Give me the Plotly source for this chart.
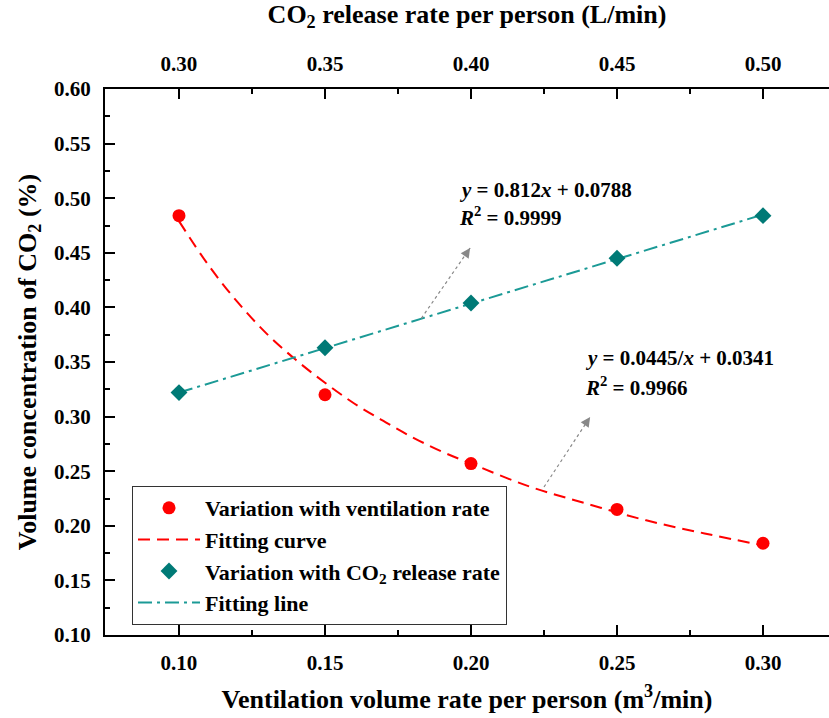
import plotly.graph_objects as go

# Data
vent_x = [0.10, 0.15, 0.20, 0.25, 0.30]
vent_y = [0.484, 0.320, 0.257, 0.215, 0.184]

curve_x = [0.10, 0.11, 0.12, 0.13, 0.14, 0.15, 0.16, 0.17, 0.18, 0.19, 0.20,
           0.22, 0.24, 0.26, 0.28, 0.30]
curve_y = [0.479, 0.439, 0.405, 0.376, 0.352, 0.331, 0.312, 0.296, 0.281, 0.268, 0.257,
           0.236, 0.220, 0.205, 0.193, 0.182]

co2_x = [0.30, 0.35, 0.40, 0.45, 0.50]
co2_y = [0.322, 0.363, 0.404, 0.445, 0.484]

line_x = [0.30, 0.50]
line_y = [0.322, 0.485]

bottom_ticks = [0.10, 0.15, 0.20, 0.25, 0.30]
top_ticks = [0.30, 0.35, 0.40, 0.45, 0.50]
y_ticks = [0.10, 0.15, 0.20, 0.25, 0.30, 0.35, 0.40, 0.45, 0.50, 0.55, 0.60]

FONT = "Liberation Serif"
RED = "#ff0000"
TEAL_M = "#007a76"
TEAL_L = "#1b9a96"

fig = go.Figure()

# lines first (drawn beneath), legend order set with legendrank
fig.add_trace(go.Scatter(
    x=curve_x, y=curve_y, mode="lines", name="Fitting curve", line_shape="spline",
    line=dict(color=RED, width=2, dash="12px,7px"), legendgroup="b", legendrank=2,
    xaxis="x", yaxis="y"))
fig.add_trace(go.Scatter(
    x=line_x, y=line_y, mode="lines", name="Fitting line",
    line=dict(color=TEAL_L, width=2, dash="14px,5px,3px,5px"), legendgroup="d", legendrank=4,
    xaxis="x2", yaxis="y"))
fig.add_trace(go.Scatter(
    x=vent_x, y=vent_y, mode="markers", name="Variation with ventilation rate",
    marker=dict(symbol="circle", size=13, color=RED), legendgroup="a", legendrank=1,
    xaxis="x", yaxis="y"))
fig.add_trace(go.Scatter(
    x=co2_x, y=co2_y, mode="markers", name="Variation with CO<sub>2</sub> release rate",
    marker=dict(symbol="diamond", size=13, color=TEAL_M), legendgroup="c", legendrank=3,
    xaxis="x2", yaxis="y"))

tickfont = dict(family=FONT, size=21, color="black", weight="bold")
titlefont = dict(family=FONT, size=26, color="black", weight="bold")

axis_common = dict(
    showline=True, linecolor="black", linewidth=2, ticks="inside", ticklen=10,
    tickwidth=2, tickcolor="black", showgrid=False, zeroline=False, tickfont=tickfont,
    ticklabelstandoff=8,
)

fig.update_layout(
    width=829, height=718,
    margin=dict(l=105, r=0, t=89, b=83),
    paper_bgcolor="white", plot_bgcolor="white",
    xaxis=dict(
        range=[0.07466, 0.3226], tickvals=bottom_ticks, ticktext=[f"{v:.2f}" for v in bottom_ticks],
        minor=dict(tickvals=[0.125, 0.175, 0.225, 0.275], ticks="inside", ticklen=5,
                   tickwidth=2, tickcolor="black"),
        title=dict(text="Ventilation volume rate per person (m<sup>3</sup>/min)", font=titlefont,
                   standoff=16),
        **axis_common),
    xaxis2=dict(
        range=[0.27466, 0.5226], tickvals=top_ticks, ticktext=[f"{v:.2f}" for v in top_ticks],
        overlaying="x", side="top", anchor="y",
        minor=dict(tickvals=[0.325, 0.375, 0.425, 0.475], ticks="inside", ticklen=5,
                   tickwidth=2, tickcolor="black"),
        title=dict(text="CO<sub>2</sub> release rate per person (L/min)", font=titlefont,
                   standoff=22),
        **axis_common),
    yaxis=dict(
        range=[0.10, 0.60], tickvals=y_ticks, ticktext=[f"{v:.2f}" for v in y_ticks],
        minor=dict(tickvals=[0.125 + 0.05 * i for i in range(10)], ticks="inside", ticklen=5,
                   tickwidth=2, tickcolor="black"),
        title=dict(text="Volume concentration of CO<sub>2</sub> (%)", font=titlefont, standoff=10),
        **axis_common),
    legend=dict(
        x=0.0373, y=0.2729, xanchor="left", yanchor="top",
        bgcolor="white", bordercolor="#333333", borderwidth=1,
        font=dict(family=FONT, size=22, color="black", weight="bold"),
        tracegroupgap=0, itemwidth=62, traceorder="normal",
    ),
    showlegend=True,
)

# Equation labels
annfont = dict(family=FONT, size=21, color="black", weight="bold")
labels = [
    (0.1952, 0.5075, "<i>y</i> = 0.812<i>x</i> + 0.0788"),
    (0.1952, 0.4828, "<i>R</i><sup>2</sup> = 0.9999"),
    (0.2384, 0.3537, "<i>y</i> = 0.0445/<i>x</i> + 0.0341"),
    (0.2384, 0.3280, "<i>R</i><sup>2</sup> = 0.9966"),
]
for x, y, t in labels:
    fig.add_annotation(x=x, y=y, xref="x", yref="y", text=t, showarrow=False,
                       xanchor="left", yanchor="middle", font=annfont)

# Dotted pointer arrows
arrows = [((0.183, 0.390), (0.1997, 0.4544)), ((0.225, 0.2355), (0.2408, 0.2996))]
for (x0, y0), (x1, y1) in arrows:
    fig.add_shape(type="line", x0=x0, y0=y0, x1=x1, y1=y1, xref="x", yref="y",
                  line=dict(color="#888888", width=1.2, dash="dot"))
    fig.add_annotation(x=x1, y=y1, xref="x", yref="y", text="", showarrow=True,
                       arrowhead=2, arrowsize=1.6, arrowwidth=1.2, arrowcolor="#888888",
                       ax=-4.5, ay=6.6, standoff=0)

fig.write_html("out.html")
